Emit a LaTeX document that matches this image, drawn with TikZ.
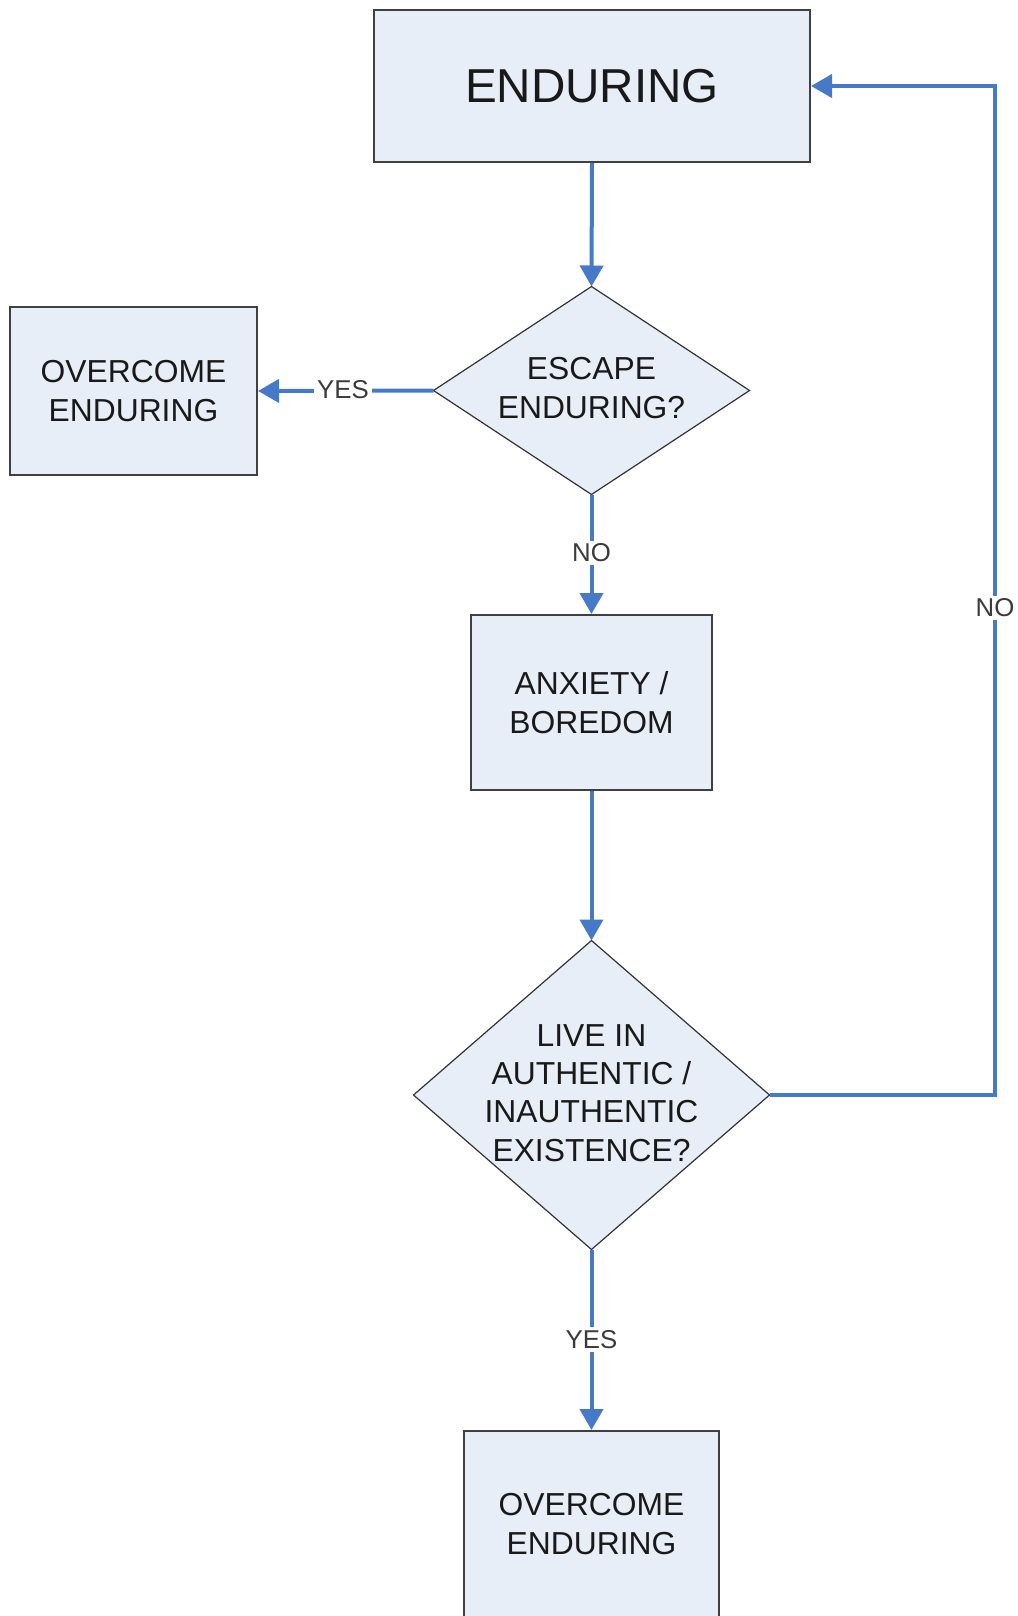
\documentclass[tikz,border=0pt]{standalone}
\usepackage{fontspec}
\setmainfont{Liberation Sans}
\usetikzlibrary{shapes.geometric,arrows.meta}
\definecolor{boxfill}{RGB}{232,238,247}
\definecolor{boxline}{RGB}{64,64,64}
\definecolor{flow}{RGB}{70,122,200}
\definecolor{txt}{RGB}{25,25,25}
\tikzset{
  procbox/.style={rectangle, draw=boxline, line width=1pt, fill=boxfill, inner sep=0pt,
    align=center, text=txt, font=\fontsize{15.9}{19.2}\selectfont},
  decbox/.style={diamond, draw=black!80, line width=0.6pt, fill=boxfill, inner sep=0pt, outer sep=0pt},
  dectext/.style={align=center, text=txt, inner sep=0pt, font=\fontsize{15.9}{19.2}\selectfont},
  flowline/.style={draw=flow, line width=2pt, -{Triangle[width=11.5pt,length=10.5pt]}},
  lbl/.style={fill=white, text=txt!85, inner sep=1.5pt, font=\fontsize{12.9}{14}\selectfont}
}
\begin{document}
\begin{tikzpicture}[x=0.5pt,y=-0.5pt]
\useasboundingbox (0,0) rectangle (1017,1616);
\clip (0,0) rectangle (1017,1616);
\fill[white] (0,0) rectangle (1017,1616);

\node[procbox, minimum width=218pt, minimum height=76pt, font=\fontsize{23.8}{28}\selectfont] (end) at (592,86) {ENDURING};
\node[procbox, minimum width=123.5pt, minimum height=84pt] (left) at (133.5,391) {OVERCOME\\ENDURING};
\node[decbox, minimum width=158pt, minimum height=104pt] (esc) at (591.5,390.5) {};
\node[dectext] (esctxt) at (591.5,388) {ESCAPE\\ENDURING?};
\node[procbox, minimum width=120.5pt, minimum height=87.5pt] (anx) at (591.5,702.5) {ANXIETY /\\BOREDOM};
\node[decbox, minimum width=178pt, minimum height=154.5pt] (live) at (591.5,1095) {};
\node[dectext] (livetxt) at (591.5,1093) {LIVE IN\\AUTHENTIC /\\INAUTHENTIC\\EXISTENCE?};
\node[procbox, minimum width=127.5pt, minimum height=95.5pt] (bot) at (591.5,1526.5) {};
\node[dectext] (bottxt) at (591.5,1524) {OVERCOME\\ENDURING};

\coordinate (rt) at (995,608);

\draw[flowline] (end.south) -- (esc.north);
\draw[flowline] (esc.west) -- (left.east);
\draw[flowline] (esc.south) -- (anx.north);
\draw[flowline] (anx.south) -- (live.north);
\draw[flowline] (live.east) -| (rt) |- (end.east);
\draw[flowline] (live.south) -- (bot.north);

\node[lbl] (yes1) at (343,389.5) {YES};
\node[lbl] (no1) at (591.5,553) {NO};
\node[lbl] (no2) at (rt) {NO};
\node[lbl] (yes2) at (591.5,1339.5) {YES};
\end{tikzpicture}
\end{document}
